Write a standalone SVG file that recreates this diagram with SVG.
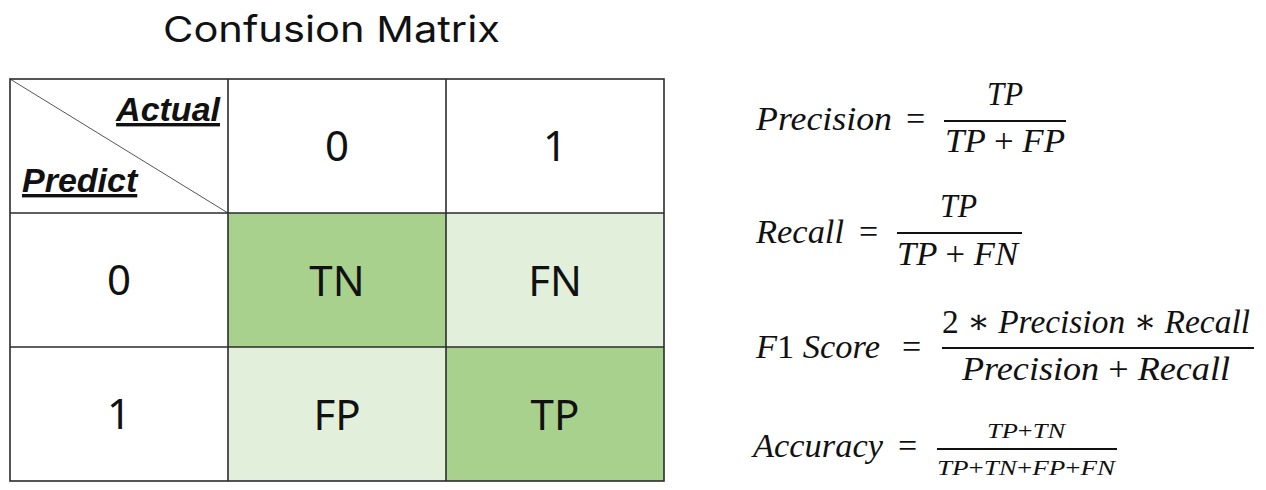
<svg xmlns="http://www.w3.org/2000/svg" width="1266" height="490" viewBox="0 0 1266 490">
<style>
.title{font-family:Inter,"Noto Sans",sans-serif;font-size:36px;fill:#111}
.cell{font-family:"Noto Sans","Liberation Sans",sans-serif;font-size:42px;fill:#111;text-anchor:middle}
.hdr{font-family:"Liberation Sans",Arial,sans-serif;font-size:34px;font-weight:bold;font-style:italic;text-decoration:underline;fill:#111}
.grid{fill:none;stroke:#2b2b2b;stroke-width:1.6}
.m{font-family:"Liberation Serif","DejaVu Serif",serif;font-style:italic;font-size:34px;fill:#111}
.ms{font-family:"Liberation Serif","DejaVu Serif",serif;font-style:italic;font-size:22px;fill:#111}
.up{font-style:normal}
.bar{stroke:#111;stroke-width:2}
.dark{fill:#A9D18E}
.light{fill:#E2EFDA}
</style>
<text class="title" x="163" y="42" textLength="337" lengthAdjust="spacingAndGlyphs">Confusion Matrix</text>
<g id="matrix">
  <g id="corner">
    <rect x="10" y="79" width="218" height="134" fill="#fff"/>
    <line x1="10" y1="79" x2="228" y2="213" stroke="#555" stroke-width="1"/>
    <text class="hdr" x="220" y="121" text-anchor="end">Actual</text>
    <text class="hdr" x="22" y="192">Predict</text>
  </g>
  <g id="col0"><text class="cell" x="337" y="161">0</text></g>
  <g id="col1"><text class="cell" x="555" y="161">1</text></g>
  <g id="row0"><text class="cell" x="119" y="295">0</text></g>
  <g id="row1"><text class="cell" x="119" y="429">1</text></g>
  <g id="TN"><rect class="dark" x="228" y="213" width="218" height="134"/><text class="cell" x="337" y="296">TN</text></g>
  <g id="FN"><rect class="light" x="446" y="213" width="218" height="134"/><text class="cell" x="555" y="296">FN</text></g>
  <g id="FP"><rect class="light" x="228" y="347" width="218" height="134"/><text class="cell" x="337" y="430">FP</text></g>
  <g id="TP"><rect class="dark" x="446" y="347" width="218" height="134"/><text class="cell" x="555" y="430">TP</text></g>
  <g id="grid">
    <rect class="grid" x="10" y="79" width="654" height="402"/>
    <line class="grid" x1="228" y1="79" x2="228" y2="481"/>
    <line class="grid" x1="446" y1="79" x2="446" y2="481"/>
    <line class="grid" x1="10" y1="213" x2="664" y2="213"/>
    <line class="grid" x1="10" y1="347" x2="664" y2="347"/>
  </g>
</g>
<g id="precision">
  <text class="m" x="756" y="130" textLength="136" lengthAdjust="spacingAndGlyphs">Precision</text>
  <text class="m up" x="906" y="130">=</text>
  <line class="bar" x1="944" y1="121" x2="1066" y2="121"/>
  <text class="m" x="987" y="105" textLength="36" lengthAdjust="spacingAndGlyphs">TP</text>
  <text class="m" x="945" y="152" textLength="120" lengthAdjust="spacingAndGlyphs">TP <tspan class="up">+</tspan> FP</text>
</g>
<g id="recall">
  <text class="m" x="756" y="243" textLength="88" lengthAdjust="spacingAndGlyphs">Recall</text>
  <text class="m up" x="859" y="243">=</text>
  <line class="bar" x1="897" y1="233" x2="1022" y2="233"/>
  <text class="m" x="940" y="217" textLength="37" lengthAdjust="spacingAndGlyphs">TP</text>
  <text class="m" x="897" y="265" textLength="121" lengthAdjust="spacingAndGlyphs">TP <tspan class="up">+</tspan> FN</text>
</g>
<g id="f1">
  <text class="m" x="756" y="358" textLength="124" lengthAdjust="spacingAndGlyphs">F<tspan class="up">1</tspan> Score</text>
  <text class="m up" x="902" y="358">=</text>
  <line class="bar" x1="942" y1="348" x2="1254" y2="348"/>
  <text class="m" x="942" y="333" textLength="308" lengthAdjust="spacingAndGlyphs"><tspan class="up">2 ∗ </tspan>Precision<tspan class="up"> ∗ </tspan>Recall</text>
  <text class="m" x="962" y="380" textLength="268" lengthAdjust="spacingAndGlyphs">Precision <tspan class="up">+</tspan> Recall</text>
</g>
<g id="accuracy">
  <text class="m" x="753" y="457" textLength="130" lengthAdjust="spacingAndGlyphs">Accuracy</text>
  <text class="m up" x="898" y="457">=</text>
  <line class="bar" x1="937" y1="449" x2="1117" y2="449"/>
  <text class="ms" x="987" y="438" textLength="78" lengthAdjust="spacingAndGlyphs">TP<tspan class="up">+</tspan>TN</text>
  <text class="ms" x="937" y="475" textLength="178" lengthAdjust="spacingAndGlyphs">TP<tspan class="up">+</tspan>TN<tspan class="up">+</tspan>FP<tspan class="up">+</tspan>FN</text>
</g>
</svg>
